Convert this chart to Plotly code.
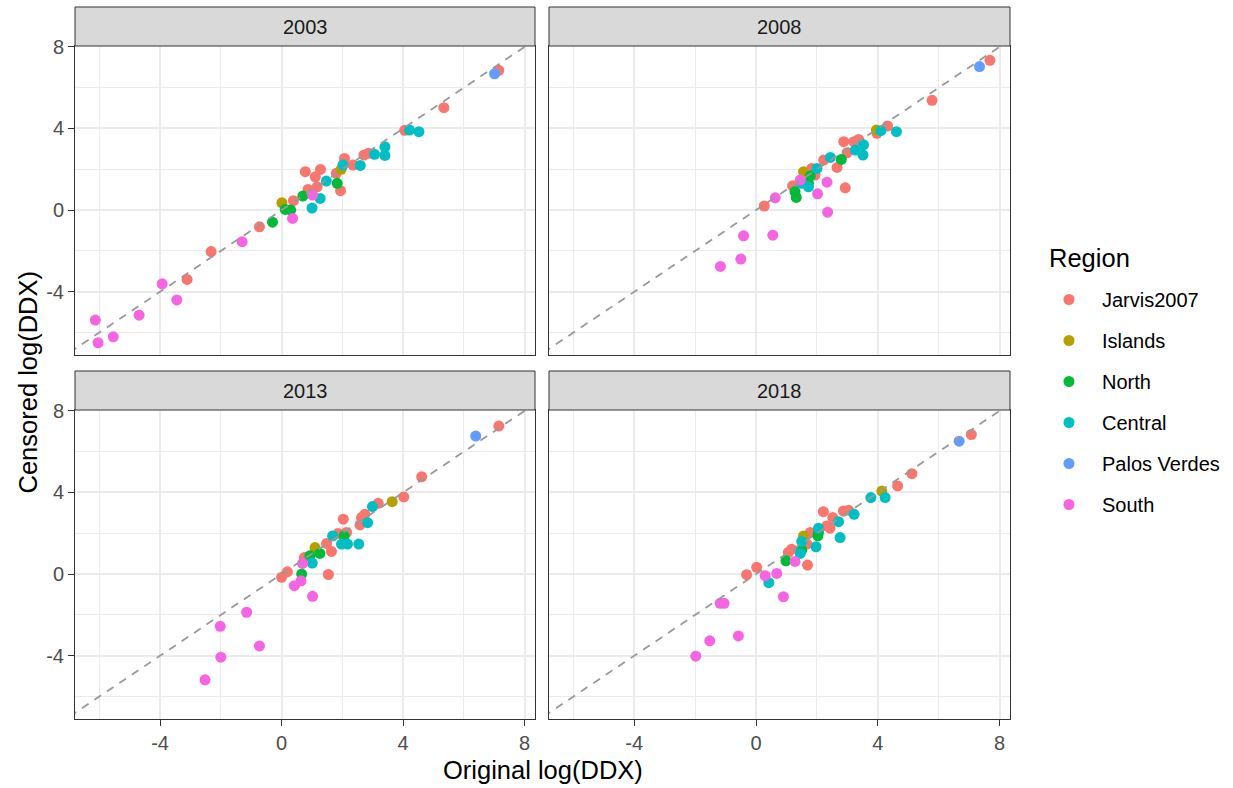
import plotly.graph_objects as go

# ---------------- data ----------------
YEARS = ["2003", "2008", "2013", "2018"]
REGIONS = ["Jarvis2007", "Islands", "North", "Central", "Palos Verdes", "South"]
REGION_COLORS = ["#F8766D", "#B79F00", "#00BA38", "#00BFC4", "#619CFF", "#F564E3"]

# 2003
X_2003_JARVIS = [-3.11, -2.32, -0.73, 0.39, 0.78, 0.87, 1.11, 1.28, 1.17, 1.80, 1.94, 2.07, 2.35, 2.71, 2.86, 4.05, 5.34, 7.15]
Y_2003_JARVIS = [-3.40, -2.03, -0.82, 0.46, 1.88, 1.01, 1.63, 1.99, 1.14, 1.80, 0.95, 2.53, 2.21, 2.70, 2.78, 3.91, 5.02, 6.85]
X_2003_ISLANDS = [0.01, 1.96]
Y_2003_ISLANDS = [0.36, 2.00]
X_2003_NORTH = [-0.30, 0.12, 0.30, 0.70, 1.83]
Y_2003_NORTH = [-0.59, 0.03, 0.00, 0.69, 1.31]
X_2003_CENTRAL = [1.00, 1.27, 1.47, 2.02, 2.59, 3.06, 3.40, 3.40, 4.21, 4.52]
Y_2003_CENTRAL = [0.10, 0.57, 1.42, 2.21, 2.19, 2.73, 3.10, 2.68, 3.92, 3.84]
X_2003_PV = [7.01]
Y_2003_PV = [6.68]
X_2003_SOUTH = [-6.13, -6.04, -5.54, -4.69, -3.93, -3.45, -1.30, 0.36, 1.02]
Y_2003_SOUTH = [-5.39, -6.50, -6.21, -5.15, -3.61, -4.40, -1.55, -0.41, 0.74]

# 2008
X_2008_JARVIS = [7.68, 5.78, 4.32, 3.97, 2.88, 3.21, 3.37, 2.99, 2.66, 2.22, 1.83, 1.94, 1.20, 2.93, 0.27]
Y_2008_JARVIS = [7.34, 5.38, 4.12, 3.76, 3.35, 3.35, 3.46, 2.81, 2.09, 2.45, 2.04, 1.72, 1.19, 1.09, 0.20]
X_2008_ISLANDS = [3.95, 1.56]
Y_2008_ISLANDS = [3.92, 1.88]
X_2008_NORTH = [2.80, 1.78, 1.72, 1.28, 1.32]
Y_2008_NORTH = [2.48, 1.67, 1.31, 0.90, 0.62]
X_2008_CENTRAL = [4.10, 4.61, 3.53, 3.26, 3.51, 2.44, 2.00, 1.50, 1.72]
Y_2008_CENTRAL = [3.89, 3.84, 3.20, 2.94, 2.70, 2.58, 2.04, 1.31, 1.14]
X_2008_PV = [7.34]
Y_2008_PV = [7.03]
X_2008_SOUTH = [1.45, 2.33, 2.02, 2.35, 0.63, -0.41, 0.55, -0.50, -1.17]
Y_2008_SOUTH = [1.47, 1.37, 0.80, -0.10, 0.60, -1.26, -1.23, -2.40, -2.76]

# 2013
X_2013_JARVIS = [7.15, 4.61, 4.02, 3.18, 2.74, 2.63, 2.58, 2.03, 2.14, 1.86, 1.64, 1.48, 0.75, 1.54, 0.19, 0.00]
Y_2013_JARVIS = [7.25, 4.77, 3.78, 3.47, 2.93, 2.77, 2.41, 2.69, 2.04, 1.99, 1.11, 1.50, 0.81, -0.02, 0.11, -0.16]
X_2013_ISLANDS = [3.64, 1.10]
Y_2013_ISLANDS = [3.55, 1.30]
X_2013_NORTH = [2.06, 1.26, 0.93, 0.66]
Y_2013_NORTH = [1.87, 1.01, 0.90, 0.00]
X_2013_CENTRAL = [2.99, 2.83, 1.68, 1.97, 2.17, 2.54, 1.01]
Y_2013_CENTRAL = [3.31, 2.52, 1.87, 1.47, 1.47, 1.47, 0.54]
X_2013_PV = [6.39]
Y_2013_PV = [6.76]
X_2013_SOUTH = [0.69, 0.64, 0.42, 1.02, -1.15, -2.02, -0.73, -2.00, -2.52]
Y_2013_SOUTH = [0.52, -0.33, -0.57, -1.09, -1.87, -2.56, -3.52, -4.07, -5.18]

# 2018
X_2018_JARVIS = [7.07, 5.12, 4.65, 2.21, 2.87, 3.04, 2.52, 2.43, 2.32, 1.78, 1.67, 1.17, 1.06, 1.69, 0.02, -0.31]
Y_2018_JARVIS = [6.84, 4.92, 4.32, 3.06, 3.09, 3.13, 2.77, 2.25, 2.36, 2.04, 1.47, 1.22, 1.06, 0.44, 0.33, -0.03]
X_2018_ISLANDS = [4.13, 1.56]
Y_2018_ISLANDS = [4.07, 1.87]
X_2018_NORTH = [2.03, 2.05, 1.50, 0.98]
Y_2018_NORTH = [1.87, 2.04, 1.17, 0.65]
X_2018_CENTRAL = [4.24, 3.77, 3.22, 2.71, 2.05, 1.50, 1.97, 2.76, 1.45, 0.42]
Y_2018_CENTRAL = [3.75, 3.75, 2.93, 2.57, 2.25, 1.60, 1.34, 1.79, 1.01, -0.42]
X_2018_PV = [6.67]
Y_2018_PV = [6.51]
X_2018_SOUTH = [1.28, 0.30, 0.68, 0.90, -1.18, -1.05, -0.58, -1.52, -1.98]
Y_2018_SOUTH = [0.62, -0.08, 0.03, -1.11, -1.43, -1.43, -3.03, -3.27, -4.02]

TICK_VALUES = [-4, 0, 4, 8]
TICK_LABELS = ["-4", "0", "4", "8"]
MINOR_TICK_VALUES = [-6, -2, 2, 6]

X_TITLE = "Original log(DDX)"
Y_TITLE = "Censored log(DDX)"
LEGEND_TITLE = "Region"

# ---------------- assemble ----------------
PANEL_DATA = {
    "2003": [(X_2003_JARVIS, Y_2003_JARVIS), (X_2003_ISLANDS, Y_2003_ISLANDS), (X_2003_NORTH, Y_2003_NORTH),
             (X_2003_CENTRAL, Y_2003_CENTRAL), (X_2003_PV, Y_2003_PV), (X_2003_SOUTH, Y_2003_SOUTH)],
    "2008": [(X_2008_JARVIS, Y_2008_JARVIS), (X_2008_ISLANDS, Y_2008_ISLANDS), (X_2008_NORTH, Y_2008_NORTH),
             (X_2008_CENTRAL, Y_2008_CENTRAL), (X_2008_PV, Y_2008_PV), (X_2008_SOUTH, Y_2008_SOUTH)],
    "2013": [(X_2013_JARVIS, Y_2013_JARVIS), (X_2013_ISLANDS, Y_2013_ISLANDS), (X_2013_NORTH, Y_2013_NORTH),
             (X_2013_CENTRAL, Y_2013_CENTRAL), (X_2013_PV, Y_2013_PV), (X_2013_SOUTH, Y_2013_SOUTH)],
    "2018": [(X_2018_JARVIS, Y_2018_JARVIS), (X_2018_ISLANDS, Y_2018_ISLANDS), (X_2018_NORTH, Y_2018_NORTH),
             (X_2018_CENTRAL, Y_2018_CENTRAL), (X_2018_PV, Y_2018_PV), (X_2018_SOUTH, Y_2018_SOUTH)],
}

# shared axis ranges (ggplot-style expanded limits)
XR = [-6.80, 8.34]
YR = [-7.10, 8.04]

W, H = 1233, 788
ML, MR, MT, MB = 75, 223, 7, 69
PW = W - ML - MR
PH = H - MT - MB

def px_x(p):  # pixel -> paper x
    return (p - ML) / PW
def px_y(p):  # pixel (from top) -> paper y
    return (H - MB - p) / PH

# panel pixel boxes: (left, right, top, bottom, strip top)
PANELS = [
    (75, 535, 46, 355, 7),
    (549, 1010, 46, 355, 7),
    (75, 535, 410, 719, 371),
    (549, 1010, 410, 719, 371),
]

FONT = "Liberation Sans, Arial, Helvetica, sans-serif"
SMALL = 20
BIG = 25.5
fig = go.Figure()

for i, yr in enumerate(YEARS):
    suffix = "" if i == 0 else str(i + 1)
    xa, ya = "x" + suffix, "y" + suffix
    for (xs, ys), name, col in zip(PANEL_DATA[yr], REGIONS, REGION_COLORS):
        fig.add_trace(go.Scatter(
            x=xs, y=ys, mode="markers", name=name, legendgroup=name,
            showlegend=(i == 0),
            marker=dict(color=col, size=11, line=dict(width=0)),
            xaxis=xa, yaxis=ya,
        ))
    fig.add_trace(go.Scatter(
        x=[XR[0] - 1, XR[1] + 1], y=[XR[0] - 1, XR[1] + 1], mode="lines",
        line=dict(color="#999999", width=1.8, dash="8px,7px"),
        showlegend=False, hoverinfo="skip", xaxis=xa, yaxis=ya,
    ))

axis_common = dict(
    tickmode="array", tickvals=TICK_VALUES, ticktext=TICK_LABELS,
    showgrid=True, gridcolor="#EBEBEB", gridwidth=1.6,
    minor=dict(tickmode="array", tickvals=MINOR_TICK_VALUES, showgrid=True,
               gridcolor="#EBEBEB", gridwidth=0.8),
    showline=True, mirror=True, linecolor="#333333", linewidth=1,
    zeroline=False, tickcolor="#333333", tickwidth=1.3, ticklen=6,
    tickfont=dict(family=FONT, size=SMALL, color="#4D4D4D"),
)

layout = dict(
    width=W, height=H,
    margin=dict(l=ML, r=MR, t=MT, b=MB, autoexpand=False),
    paper_bgcolor="white", plot_bgcolor="white",
    font=dict(family=FONT, color="#000000"),
    showlegend=True,
)

shapes, annotations = [], []
for i, (l, r, t, b, st) in enumerate(PANELS):
    suffix = "" if i == 0 else str(i + 1)
    bottom = i >= 2
    left = i % 2 == 0
    layout["xaxis" + suffix] = dict(
        axis_common, range=XR, domain=[px_x(l), px_x(r)], anchor="y" + suffix,
        showticklabels=bottom, ticks="outside" if bottom else "",
    )
    layout["yaxis" + suffix] = dict(
        axis_common, range=YR, domain=[px_y(b), px_y(t)], anchor="x" + suffix,
        showticklabels=left, ticks="outside" if left else "",
    )
    shapes.append(dict(type="rect", xref="paper", yref="paper",
                       x0=px_x(l), x1=px_x(r), y0=px_y(t), y1=px_y(st),
                       fillcolor="#D9D9D9", line=dict(color="#333333", width=1), layer="above"))
    annotations.append(dict(text=YEARS[i], xref="paper", yref="paper",
                            x=px_x((l + r) / 2), y=px_y((t + st) / 2),
                            showarrow=False, xanchor="center", yanchor="middle",
                            font=dict(family=FONT, size=SMALL, color="#1A1A1A")))

annotations.append(dict(text=X_TITLE, xref="paper", yref="paper",
                        x=px_x((75 + 1010) / 2), y=px_y(770), showarrow=False,
                        xanchor="center", yanchor="middle",
                        font=dict(family=FONT, size=BIG, color="#000000")))
annotations.append(dict(text=Y_TITLE, xref="paper", yref="paper",
                        x=px_x(27), y=px_y((46 + 719) / 2), showarrow=False,
                        textangle=-90, xanchor="center", yanchor="middle",
                        font=dict(family=FONT, size=BIG, color="#000000")))
annotations.append(dict(text=LEGEND_TITLE, xref="paper", yref="paper",
                        x=px_x(1047), y=px_y(258), showarrow=False,
                        xanchor="left", yanchor="middle",
                        font=dict(family=FONT, size=BIG, color="#000000")))

layout["shapes"] = shapes
layout["annotations"] = annotations
layout["legend"] = dict(
    x=px_x(1036), y=px_y(402), xanchor="left", yanchor="middle",
    font=dict(family=FONT, size=SMALL, color="#000000"),
    itemwidth=56, tracegroupgap=12, bgcolor="rgba(0,0,0,0)",
)

fig.update_layout(layout)
fig.write_html("out.html")
